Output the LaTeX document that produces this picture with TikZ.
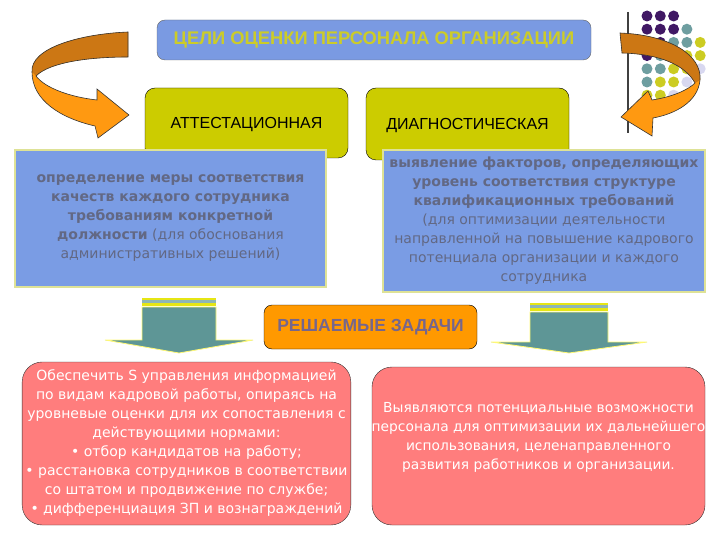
\documentclass[tikz,border=0pt]{standalone}
\usepackage{fontspec}
\setmainfont{DejaVu Sans}
\newfontfamily\headfont{Liberation Sans}
\usetikzlibrary{positioning}
\definecolor{goalblue}{RGB}{122,154,226}
\definecolor{goalyellow}{RGB}{204,204,40}
\definecolor{kindyellow}{RGB}{204,204,0}
\definecolor{infoblue}{RGB}{122,156,228}
\definecolor{infotext}{RGB}{98,104,132}
\definecolor{infoedge}{RGB}{222,226,150}
\definecolor{taskorange}{RGB}{255,153,0}
\definecolor{tasktext}{RGB}{118,102,140}
\definecolor{resultpink}{RGB}{255,125,125}
\definecolor{downteal}{RGB}{94,150,150}
\definecolor{stripeyellow}{RGB}{230,230,20}
\definecolor{bendlight}{RGB}{255,153,17}
\definecolor{benddark}{RGB}{204,119,20}
\definecolor{dotpurple}{RGB}{64,24,100}
\definecolor{dotteal}{RGB}{110,158,160}
\definecolor{dotyellow}{RGB}{204,204,34}
\definecolor{dotlilac}{RGB}{216,216,240}
\tikzset{>=latex}

\begin{document}
\begin{tikzpicture}[x=1pt, y=-1pt,
  goal/.style={draw=black!60, fill=goalblue, rounded corners=8, text=goalyellow,
    font=\headfont\bfseries\fontsize{18.3}{20}\selectfont},
  kind/.style={draw=black, fill=kindyellow, rounded corners=10,
    font=\headfont\fontsize{16}{20}\selectfont},
  info/.style={draw=infoedge, line width=1.2, fill=infoblue, text=infotext, align=center,
    font=\fontsize{14}{19}\selectfont},
  tasks/.style={draw=black, fill=taskorange, rounded corners=8, text=tasktext,
    font=\headfont\bfseries\fontsize{17.5}{20}\selectfont},
  result/.style={draw=black!80, fill=resultpink, rounded corners=20},
  resulttext/.style={text=white, align=center, font=\fontsize{14}{19}\selectfont},
  bendedge/.style={draw=black!80, line width=0.6},
  down/.style={fill=downteal, draw=yellow!55!white, line width=0.8}]

\useasboundingbox (0,0) rectangle (720,540);

% Dots and rule, top right
\draw[line width=1.2, black!75] (628,12) -- (628,133);
\foreach \r/\n in {0/2,1/3,2/4,3/4,4/4,5/3,6/2}
  \foreach \c in {0,...,\n} {
    \pgfmathtruncatemacro\d{\r+\c}
    \ifnum\d<4 \def\dotcol{dotpurple}\else\ifnum\d<6 \def\dotcol{dotteal}\else
      \ifnum\d<8 \def\dotcol{dotyellow}\else\def\dotcol{dotlilac}\fi\fi\fi
    \fill[\dotcol] ({647+13.3*\c},{16+13.2*\r}) circle (5.5);
  }

% Goal
\node[goal, minimum width=434, minimum height=40] (goal) at (374,40)
  {ЦЕЛИ ОЦЕНКИ ПЕРСОНАЛА ОРГАНИЗАЦИИ};

% Bent arrows
\fill[bendlight] (128,32) .. controls (80,34) and (30,48) .. (32,72)
  .. controls (32,100) and (60,118) .. (95,126) -- (98,138) -- (129,115) -- (97,89) -- (97,100)
  .. controls (70,97) and (45,88) .. (36,76)
  .. controls (50,62) and (90,57) .. (128,57) -- cycle;
\fill[benddark] (128,32) .. controls (80,34) and (30,48) .. (32,72) -- (36,76)
  .. controls (50,62) and (90,57) .. (128,57) -- cycle;
\draw[bendedge] (128,32) .. controls (80,34) and (30,48) .. (32,72)
  .. controls (32,100) and (60,118) .. (95,126) -- (98,138) -- (129,115) -- (97,89) -- (97,100)
  .. controls (70,97) and (45,88) .. (36,76)
  .. controls (50,62) and (90,57) .. (128,57) -- cycle;

\fill[bendlight] (620,33) .. controls (670,35) and (702,55) .. (700,80)
  .. controls (698,102) and (675,114) .. (653,118) -- (652,136) -- (621,117) -- (648,91) -- (652,100)
  .. controls (672,97) and (688,90) .. (695,83)
  .. controls (685,65) and (660,54) .. (622,53) -- cycle;
\fill[benddark] (620,33) .. controls (670,35) and (702,55) .. (700,80) -- (695,83)
  .. controls (685,65) and (660,54) .. (622,53) -- cycle;
\draw[bendedge] (620,33) .. controls (670,35) and (702,55) .. (700,80)
  .. controls (698,102) and (675,114) .. (653,118) -- (652,136) -- (621,117) -- (648,91) -- (652,100)
  .. controls (672,97) and (688,90) .. (695,83)
  .. controls (685,65) and (660,54) .. (622,53) -- cycle;

% Kinds of appraisal
\node[kind, minimum width=203, minimum height=70, text depth=-6] (attest) at (246.5,123) {АТТЕСТАЦИОННАЯ};
\node[kind, minimum width=203, minimum height=72, text depth=-6] (diagn) at (467.5,124) {ДИАГНОСТИЧЕСКАЯ};

\node[info, minimum width=311, minimum height=137] (attestinfo) at (170.5,218.5)
  {\textbf{определение меры соответствия}\\
   \textbf{качеств каждого сотрудника}\\
   \textbf{требованиям конкретной}\\
   \textbf{должности} (для обоснования\\
   административных решений)};
\node[info, minimum width=322, minimum height=142] (diagninfo) at (544,221)
  {\textbf{выявление факторов, определяющих}\\
   \textbf{уровень соответствия структуре}\\
   \textbf{квалификационных требований}\\
   (для оптимизации деятельности\\
   направленной на повышение кадрового\\
   потенциала организации и каждого\\
   сотрудника};

% Down arrows
\foreach \cx/\ty/\bw/\hw/\by in {179/307/37/74/340, 569/312/39/78/342} {
  \filldraw[down] ({\cx-\bw},\ty) -- ({\cx+\bw},\ty) -- ({\cx+\bw},\by) -- ({\cx+\hw},\by)
    -- (\cx,353) -- ({\cx-\hw},\by) -- ({\cx-\bw},\by) -- cycle;
  \fill[stripeyellow] ({\cx-\bw},{\ty-9}) rectangle ({\cx+\bw},{\ty-1});
  \fill[downteal!70!white] ({\cx-\bw},{\ty-7}) rectangle ({\cx+\bw},{\ty-4});
}

% Tasks
\node[tasks, minimum width=213, minimum height=44] (tasks) at (370.5,327) {РЕШАЕМЫЕ ЗАДАЧИ};

\node[result, resulttext, minimum width=323, minimum height=163] (attesttask) at (186.5,443.5)
  {Обеспечить S управления информацией\\
   по видам кадровой работы, опираясь на\\
   уровневые оценки для их сопоставления с\\
   действующими нормами:\\
   • отбор кандидатов на работу;\\
   • расстановка сотрудников в соответствии\\
   со штатом и продвижение по службе;\\
   • дифференциация ЗП и вознаграждений};
\node[result, minimum width=333, minimum height=158] (diagntask) at (538.5,446) {};
\node[resulttext, font=\fontsize{13.8}{19}\selectfont] (diagntasktext) at (538.5,437)
  {Выявляются потенциальные возможности\\
   персонала для оптимизации их дальнейшего\\
   использования, целенаправленного\\
   развития работников и организации.};

\end{tikzpicture}
\end{document}
